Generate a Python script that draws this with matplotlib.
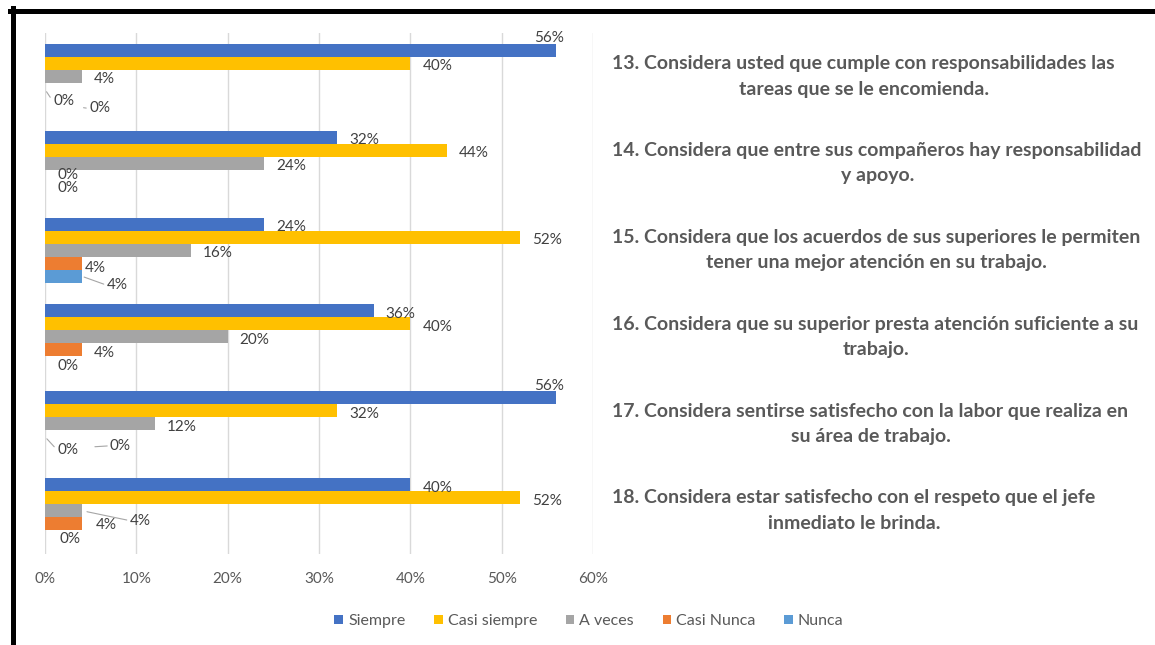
import matplotlib.pyplot as plt
from matplotlib.lines import Line2D
from matplotlib.patches import Patch

preguntas = [
    "13. Considera usted que cumple con responsabilidades las\ntareas que se le encomienda.",
    "14. Considera que entre sus compañeros hay responsabilidad\ny apoyo.",
    "15. Considera que los acuerdos de sus superiores le permiten\ntener una mejor atención en su trabajo.",
    "16. Considera que su superior presta atención suficiente a su\ntrabajo.",
    "17. Considera sentirse satisfecho con la labor que realiza en\nsu área de trabajo.",
    "18. Considera estar satisfecho con el respeto que el jefe\ninmediato le brinda.",
]
series = ["Siempre", "Casi siempre", "A veces", "Casi Nunca", "Nunca"]
siempre = [56, 32, 24, 36, 56, 40]
casi_siempre = [40, 44, 52, 40, 32, 52]
a_veces = [4, 24, 16, 20, 12, 4]
casi_nunca = [0, 0, 4, 4, 0, 4]
nunca = [0, 0, 4, 0, 0, 0]
valores = [siempre, casi_siempre, a_veces, casi_nunca, nunca]
xticks = [0, 10, 20, 30, 40, 50, 60]

colores = ["#4472C4", "#FFC000", "#A5A5A5", "#ED7D31", "#5B9BD5"]
gris_texto = "#404040"

# etiquetas movidas a mano: (pregunta, serie) -> (dx, dy) en pixeles, y recorte de la guia
movidas = {
    (0, 0): (-22, -12, None),
    (0, 3): (8, 12, 2),
    (0, 4): (44, 6, 28),
    (1, 3): (12, -1, None),
    (1, 4): (12, -1, None),
    (2, 3): (3, 5, None),
    (2, 4): (25, 9, 2),
    (4, 0): (-22, -12, None),
    (4, 3): (12, 13, 2),
    (4, 4): (65, -4, 36),
    (5, 2): (48, 10, 4),
    (5, 3): (14, 1, None),
    (5, 4): (14, 2, None),
}

plt.rcParams['font.family'] = ['Lato', 'DejaVu Sans']

W, H = 1155, 645
fig = plt.figure(figsize=(W / 100, H / 100), dpi=100)
ax = fig.add_axes([45 / W, 1 - 554 / H, 548 / W, 521 / H])

alto = 0.15
for s, vals in enumerate(valores):
    ys = [g + (s - 2) * alto for g in range(len(preguntas))]
    ax.barh(ys, vals, height=alto, color=colores[s], label=series[s], zorder=3)
    for g, (v, y) in enumerate(zip(vals, ys)):
        dx, dy, guia = movidas.get((g, s), (12, 3, None))
        props = None
        if guia is not None:
            props = dict(arrowstyle='-', color='#A6A6A6', lw=0.8,
                         shrinkA=0, shrinkB=guia, relpos=(0, 0.5))
        ax.annotate(f"{v}%", xy=(v, y), xytext=(dx, -dy), textcoords='offset pixels',
                    ha='left', va='center', fontsize=11, color=gris_texto,
                    arrowprops=props, zorder=4)

ax.set_xlim(0, 60)
ax.set_ylim(len(preguntas) - 0.5, -0.5)
ax.set_xticks(xticks)
ax.set_xticklabels([f"{t}%" for t in xticks])
ax.grid(axis='x', color='#D9D9D9', lw=1, zorder=0)
for sp in ax.spines.values():
    sp.set_visible(False)

ax.set_yticks(range(len(preguntas)))
ax.set_yticklabels(preguntas)
ax.yaxis.tick_right()
ax.tick_params(axis='y', length=0, pad=14)
ax.tick_params(axis='x', length=0, pad=13, labelsize=11, labelcolor='#595959')
for lab in ax.get_yticklabels():
    lab.set_fontsize(14)
    lab.set_fontweight('bold')
    lab.set_color('#595959')
    lab.set_multialignment('center')
    lab.set_linespacing(1.6)
    lab.set_verticalalignment('center')

handles = [Patch(facecolor=c, edgecolor='none') for c in colores]
fig.legend(handles, series, loc='center', bbox_to_anchor=(589 / W, 1 - 621 / H),
           ncol=5, frameon=False, fontsize=11.5, labelcolor='#595959',
           handlelength=0.55, handleheight=0.55, handletextpad=0.3, columnspacing=1.8)

# marco negro del recuadro
fig.add_artist(Line2D([12.5 / W, 12.5 / W], [0, 1 - 8 / H], color='black', lw=3.6))
fig.add_artist(Line2D([10 / W, 1], [1 - 10.5 / H, 1 - 10.5 / H], color='black', lw=3.6))

fig.savefig("out.png", dpi=100)
